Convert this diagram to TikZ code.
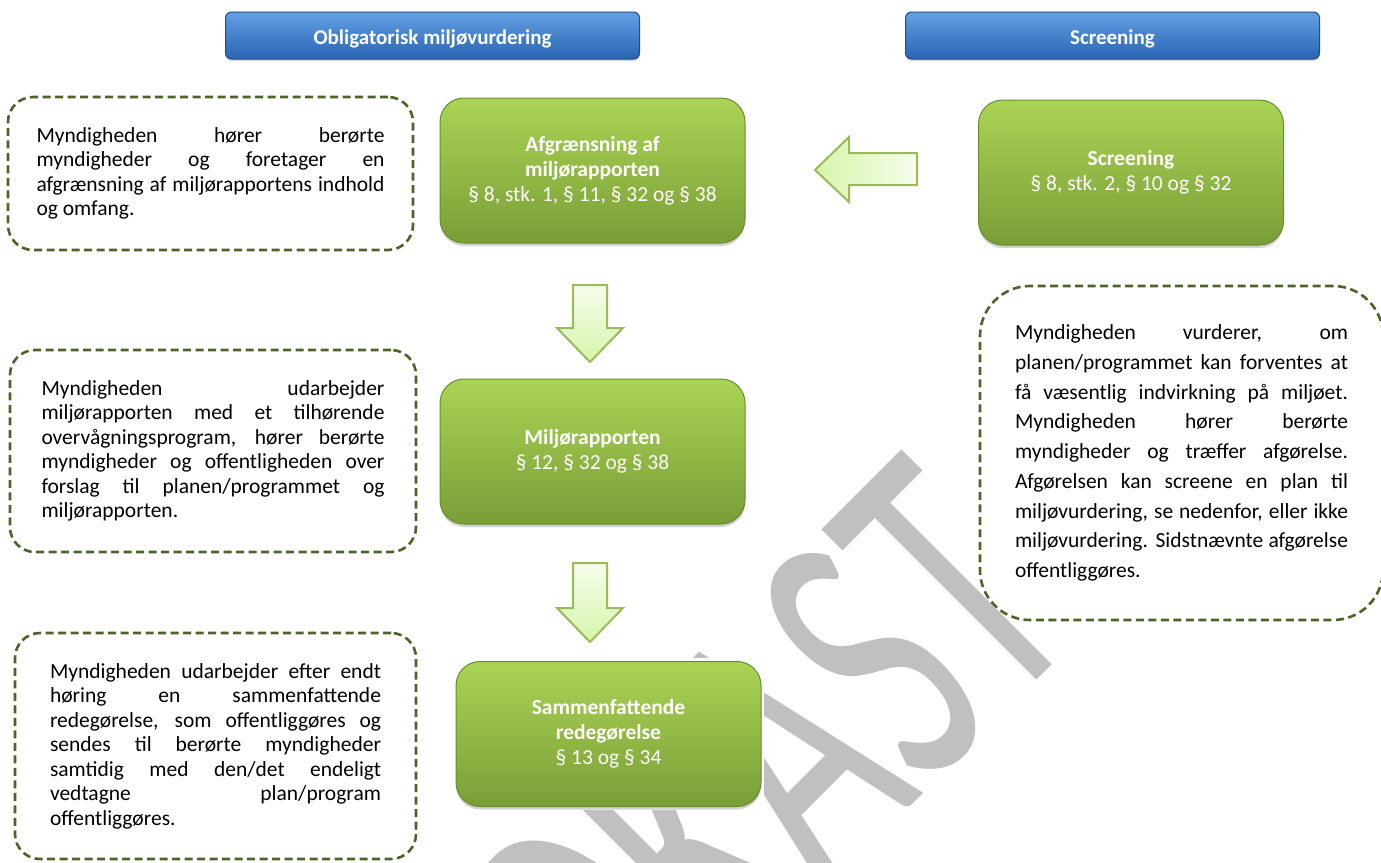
\documentclass[tikz,border=0pt]{standalone}
\usepackage{fontspec}
\setmainfont{Carlito}
\usetikzlibrary{shadows}
\definecolor{gtop}{RGB}{170,212,85}
\definecolor{gbot}{RGB}{122,158,55}
\definecolor{gline}{RGB}{105,140,45}
\definecolor{btop}{RGB}{100,160,228}
\definecolor{bbot}{RGB}{40,100,178}
\definecolor{bline}{RGB}{35,75,135}
\definecolor{dashc}{RGB}{79,98,40}
\definecolor{alight}{RGB}{246,253,236}
\definecolor{adark}{RGB}{214,245,170}
\definecolor{aline}{RGB}{155,187,89}
\definecolor{wmc}{RGB}{192,192,192}
\tikzset{
  gbox/.style={rectangle, rounded corners=24pt, top color=gtop, bottom color=gbot,
    draw=gline, line width=1pt, text=white, align=center,
    font=\fontsize{21.5}{25}\selectfont, minimum width=305pt, minimum height=145pt,
    inner sep=0pt, drop shadow={shadow xshift=0pt, shadow yshift=-3pt, opacity=0.35}},
  hbox/.style={rectangle, rounded corners=6pt, top color=btop, bottom color=bbot,
    draw=bline, line width=1pt, minimum width=414pt, minimum height=47pt, inner sep=0pt,
    drop shadow={shadow xshift=0pt, shadow yshift=-2pt, opacity=0.3}},
  htext/.style={text=white, font=\bfseries\fontsize{21}{25}\selectfont, inner sep=0pt},
  note/.style={rectangle, rounded corners=25pt, draw=dashc, line width=2.6pt,
    dash pattern=on 8pt off 4.5pt, align=justify, inner sep=0pt,
    font=\fontsize{21.5}{24.5}\selectfont},
  barrow/.style={draw=aline, line width=2pt, line join=miter},
  wmark/.style={rotate=45, text=wmc, font=\fontsize{244}{244}\selectfont, inner sep=0pt, anchor=base}
}
\begin{document}
\begin{tikzpicture}[x=1pt, y=-1pt]
\useasboundingbox (0,0) rectangle (1381,862);
\fill[white] (0,0) rectangle (1381,862);

% watermark
\node[wmark] (wm) at (802,915) {\scalebox{1}[1.65]{UDKAST}};

% headers
\node[hbox] (h1) at (432.5,35.5) {};
\node[hbox] (h2) at (1112.5,35.5) {};
\begin{scope}
  \clip (226,12) rectangle (639,48);
  \node[htext, anchor=base] (h1t) at (432.5,44.5) {Obligatorisk miljøvurdering};
\end{scope}
\begin{scope}
  \clip (905,12) rectangle (1320,48);
  \node[htext, anchor=base] (h2t) at (1112.5,44.5) {Screening};
\end{scope}

% green boxes
\fill[white] (455,658) rectangle (764,810);
\node[gbox] (g1) at (592.5,170.5) {\textbf{Afgrænsning af}\\\textbf{miljørapporten}\\§ 8, stk. 1, § 11, § 32 og § 38};
\node[gbox] (g2) at (1131,172.5) {\textbf{Screening}\\§ 8, stk. 2, § 10 og § 32};
\node[gbox] (g3) at (592.5,451.5) {\textbf{Miljørapporten}\\§ 12, § 32 og § 38};
\node[gbox] (g4) at (608.5,734) {\textbf{Sammenfattende}\\\textbf{redegørelse}\\§ 13 og § 34};

% block arrows
\draw[barrow, left color=adark, right color=alight]
  (815,170) -- (849,137) -- (849,153) -- (917,153) -- (917,185) -- (849,185) -- (849,202) -- cycle;
\draw[barrow, top color=alight, bottom color=adark]
  (573,285) -- (607,285) -- (607,328) -- (623,328) -- (590,362) -- (557,328) -- (573,328) -- cycle;
\draw[barrow, top color=alight, bottom color=adark]
  (573,563) -- (607,563) -- (607,608) -- (623,608) -- (590,642) -- (557,608) -- (573,608) -- cycle;

% note boxes
\node[note, text width=348pt, minimum width=405pt, minimum height=153pt] (nA) at (210.5,173.5)
 {Myndigheden hører berørte\linebreak
  myndigheder og foretager en\linebreak
  afgrænsning af miljørapportens indhold\linebreak
  og omfang.};
\node[note, text width=343pt, minimum width=406pt, minimum height=202pt] (nB) at (213,451)
 {Myndigheden udarbejder\linebreak
  miljørapporten med et tilhørende\linebreak
  overvågningsprogram, hører berørte\linebreak
  myndigheder og offentligheden over\linebreak
  forslag til planen/programmet og\linebreak
  miljørapporten.};
\node[note, text width=331pt, minimum width=401pt, minimum height=226pt] (nC) at (215.5,746)
 {Myndigheden udarbejder efter endt\linebreak
  høring en sammenfattende\linebreak
  redegørelse, som offentliggøres og\linebreak
  sendes til berørte myndigheder\linebreak
  samtidig med den/det endeligt\linebreak
  vedtagne plan/program\linebreak
  offentliggøres.};
\node[note, rounded corners=50pt, text width=333pt, minimum width=403pt, minimum height=334pt,
  font=\fontsize{21.5}{29.7}\selectfont] (nD) at (1181.5,453)
 {Myndigheden vurderer, om\linebreak
  planen/programmet kan forventes at\linebreak
  få væsentlig indvirkning på miljøet.\linebreak
  Myndigheden hører berørte\linebreak
  myndigheder og træffer afgørelse.\linebreak
  Afgørelsen kan screene en plan til\linebreak
  miljøvurdering, se nedenfor, eller ikke\linebreak
  miljøvurdering. Sidstnævnte afgørelse\linebreak
  offentliggøres.};
\end{tikzpicture}
\end{document}
